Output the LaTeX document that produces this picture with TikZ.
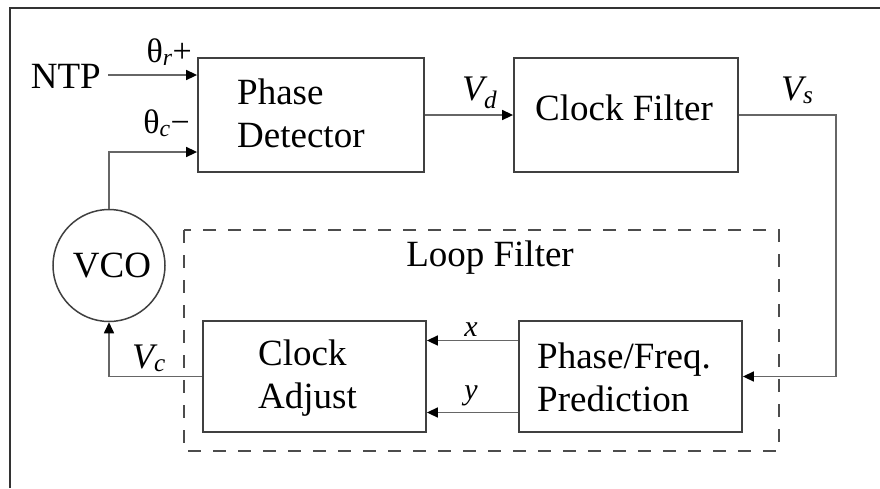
\documentclass[tikz,border=0pt]{standalone}
\usepackage{fontspec}
\setmainfont{Liberation Serif}
\usetikzlibrary{arrows.meta}
\begin{document}
\begin{tikzpicture}[x=1pt,y=-1pt,
  blk/.style={draw=black!75,line width=1.8pt,rectangle,inner sep=0pt},
  wire/.style={draw=black!60,line width=1.6pt},
  arr/.style={wire,-{Triangle[length=11pt,width=10pt,color=black]}},
  txt/.style={font=\fontsize{37}{43}\selectfont,inner sep=0pt},
  lbl/.style={font=\fontsize{34}{40}\selectfont,inner sep=0pt},
  vlbl/.style={inner sep=0pt,font=\fontsize{36}{40}\selectfont\itshape}]
\useasboundingbox (0,0) rectangle (880,488);
% frame
\draw[black!80,line width=1.5pt] (10,488) -- (10,8) -- (880,8);
% blocks
\node[blk,minimum width=226pt,minimum height=114pt] (pd) at (311,115) {};
\node[txt,anchor=west,align=left] at (237,113) {Phase\\Detector};
\node[blk,minimum width=224pt,minimum height=114pt,txt] (cf) at (626,115) {};
\node[txt] at (624,108) {Clock Filter};
\node[blk,minimum width=223pt,minimum height=111pt] (ca) at (314.5,376.5) {};
\node[txt,anchor=west,align=left] at (258,378) {Clock\\Adjust};
\node[blk,minimum width=223pt,minimum height=111pt] (pf) at (630.5,376.5) {};
\node[txt,anchor=west,align=left] at (537,377) {Phase/Freq.\\Prediction};
\node[draw=black!75,line width=1.5pt,circle,minimum size=112pt,inner sep=0pt] (vco) at (109,265.5) {};
\node[txt] at (112,266) {VCO};
% loop filter boundary
\draw[black!70,line width=1.6pt,dash pattern=on 13pt off 12pt] (184,230) rectangle (779,451);
\node[txt] (lf) at (490,258) {Loop Filter};
% inputs
\node[txt,anchor=base east] (ntp) at (101,88) {NTP};
\draw[arr] (108,75) -- ([yshift=40pt]pd.west);
\node[lbl,anchor=base east] at (192,62) {θ\textsubscript{\itshape r}+};
\draw[arr] (vco.north) |- ([yshift=-37pt]pd.west);
\node[lbl,anchor=base east] at (190,133) {θ\textsubscript{\itshape c}−};
% forward path
\draw[arr] (pd.east) -- (cf.west);
\node[vlbl,anchor=base west] at (462,100) {V\textsubscript{d}};
\draw[arr] (cf.east) -- (836,115) |- (pf.east);
\node[vlbl,anchor=base west] at (781,100) {V\textsubscript{s}};
% loop filter internals
\draw[arr] ([yshift=36pt]pf.west) -- ([yshift=36pt]ca.east);
\node[inner sep=0pt,font=\fontsize{30}{36}\selectfont\itshape,anchor=base] at (471,336) {x};
\draw[arr] ([yshift=-36pt]pf.west) -- ([yshift=-36pt]ca.east);
\node[inner sep=0pt,font=\fontsize{30}{36}\selectfont\itshape,anchor=base] at (471,399) {y};
% feedback to VCO
\draw[arr] (ca.west) -| (vco.south);
\node[vlbl,anchor=base west] at (132,368) {V\textsubscript{c}};
\end{tikzpicture}
\end{document}
